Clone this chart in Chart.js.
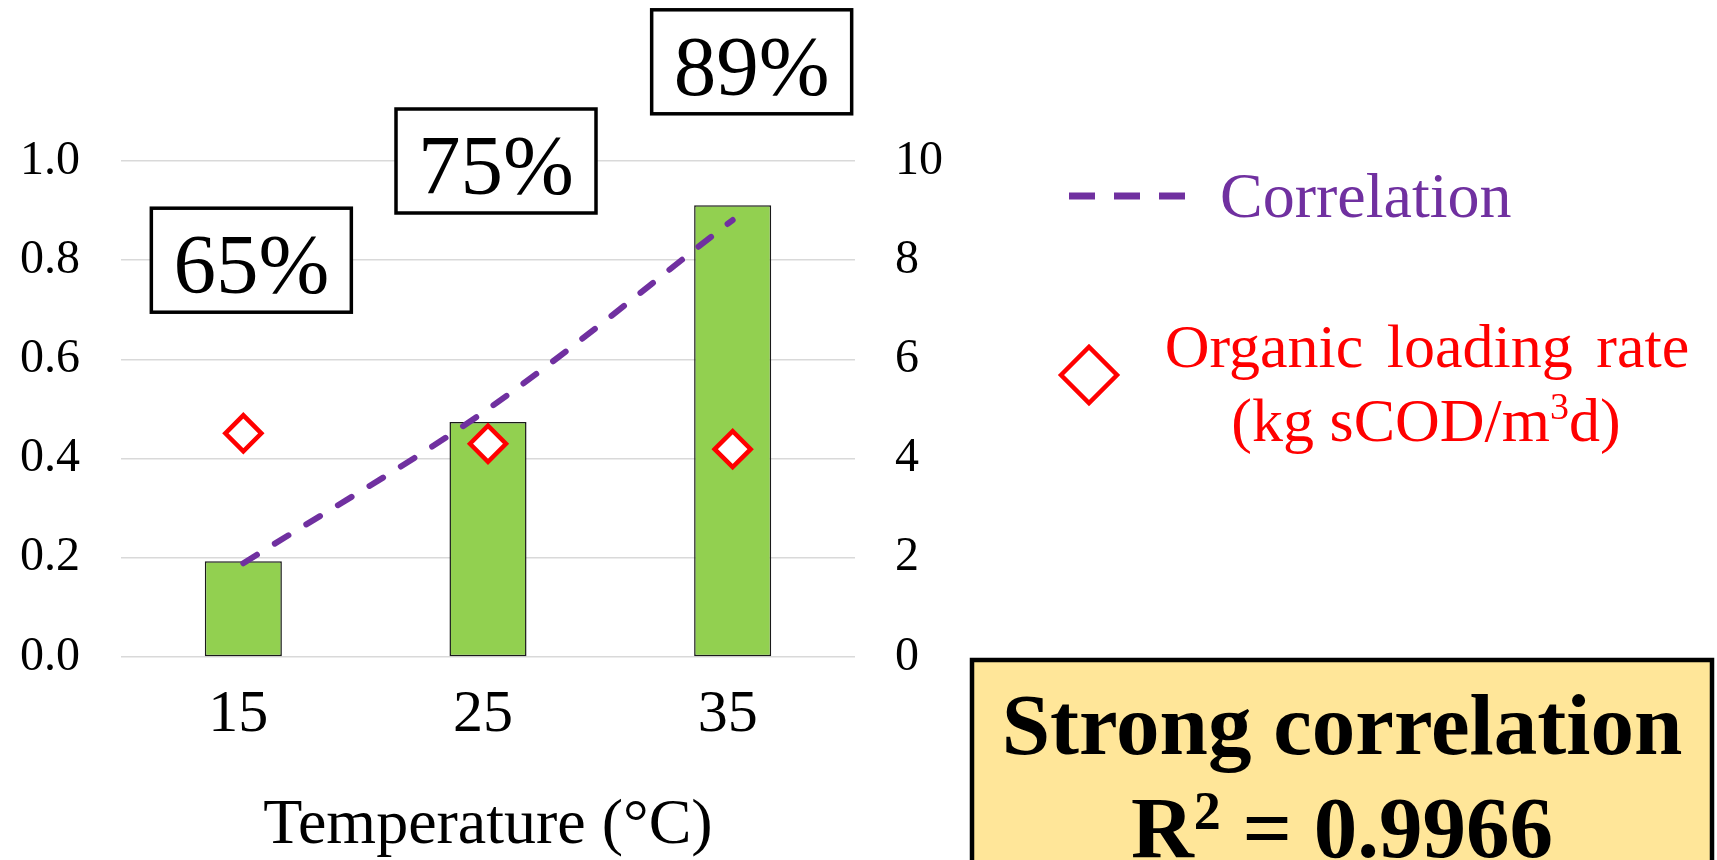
<!DOCTYPE html>
<html>
<head>
<meta charset="utf-8">
<script src="https://cdn.jsdelivr.net/npm/chart.js@4.4.1/dist/chart.umd.min.js"></script>
<style>
  html, body { margin: 0; padding: 0; background: #ffffff; overflow: hidden; }
  canvas { display: block; }
</style>
</head>
<body>
<canvas id="chart" width="1717" height="860"></canvas>
<script>
// ---- data ----
const temperatures = ['15', '25', '35'];
const barValues = [0.193, 0.474, 0.911];          // left axis
const correlationValues = [0.189, 0.500, 0.881];  // left axis, trend curve
const loadingRates = [4.51, 4.30, 4.19];          // right axis, kg sCOD/m3d
const removalLabels = ['65%', '75%', '89%'];
const leftTicks = [0, 0.2, 0.4, 0.6, 0.8, 1.0];
const rightTicks = [0, 2, 4, 6, 8, 10];
const rSquared = '0.9966';

// ---- styling / layout ----
const SERIF = "'Liberation Serif', 'Times New Roman', serif";
const PURPLE = '#7030A0';
const RED = '#FF0000';
const GREEN = '#92D050';

// callout boxes: horizontal nudge (px) from category centre, centre height in left-axis units
const calloutLayout = [
  { dx: 8, yValue: 0.8 },
  { dx: 8, yValue: 1.0 },
  { dx: 19, yValue: 1.2 }
];

const overlayPlugin = {
  id: 'overlay',
  afterDraw(chart) {
    const { ctx, scales: { x, y } } = chart;
    ctx.save();

    // percentage callouts
    const bw = 200, bh = 104;
    removalLabels.forEach((txt, i) => {
      const cx = x.getPixelForValue(i) + calloutLayout[i].dx;
      const cy = y.getPixelForValue(calloutLayout[i].yValue);
      ctx.fillStyle = '#ffffff';
      ctx.fillRect(cx - bw / 2, cy - bh / 2, bw, bh);
      ctx.lineWidth = 3.5;
      ctx.strokeStyle = '#000000';
      ctx.strokeRect(cx - bw / 2, cy - bh / 2, bw, bh);
      ctx.font = `85px ${SERIF}`;
      ctx.textAlign = 'center';
      ctx.textBaseline = 'alphabetic';
      ctx.fillStyle = '#000000';
      ctx.fillText(txt, cx, cy + 33);
    });

    // legend: correlation
    const lineDs = chart.data.datasets[1];
    ctx.beginPath();
    ctx.setLineDash([26, 19]);
    ctx.lineWidth = 7;
    ctx.strokeStyle = lineDs.borderColor;
    ctx.moveTo(1069, 196);
    ctx.lineTo(1185, 196);
    ctx.stroke();
    ctx.setLineDash([]);
    ctx.font = `64px ${SERIF}`;
    ctx.textAlign = 'left';
    ctx.fillStyle = PURPLE;
    ctx.fillText(lineDs.label, 1220, 217);

    // legend: organic loading rate
    const pcx = 1089, pcy = 375, pr = 28;
    ctx.beginPath();
    ctx.moveTo(pcx - pr, pcy);
    ctx.lineTo(pcx, pcy - pr);
    ctx.lineTo(pcx + pr, pcy);
    ctx.lineTo(pcx, pcy + pr);
    ctx.closePath();
    ctx.fillStyle = '#ffffff';
    ctx.fill();
    ctx.lineWidth = 4.5;
    ctx.strokeStyle = RED;
    ctx.stroke();

    ctx.fillStyle = RED;
    ctx.font = `62px ${SERIF}`;
    const words = ['Organic', 'loading', 'rate'];
    const gap = ctx.measureText(' ').width + 8;
    const total = words.reduce((s, w) => s + ctx.measureText(w).width, 0) + gap * (words.length - 1);
    let wx = 1427 - total / 2;
    ctx.textAlign = 'left';
    words.forEach(w => {
      ctx.fillText(w, wx, 367);
      wx += ctx.measureText(w).width + gap;
    });
    // second line with superscript 3
    const partA = '(kg sCOD/m', sup = '3', partB = 'd)';
    ctx.font = `62px ${SERIF}`;
    const wa = ctx.measureText(partA).width, wb = ctx.measureText(partB).width;
    ctx.font = `38px ${SERIF}`;
    const ws = ctx.measureText(sup).width;
    let lx = 1426 - (wa + ws + wb) / 2;
    ctx.font = `62px ${SERIF}`;
    ctx.fillText(partA, lx, 441);
    ctx.font = `38px ${SERIF}`;
    ctx.fillText(sup, lx + wa, 419);
    ctx.font = `62px ${SERIF}`;
    ctx.fillText(partB, lx + wa + ws, 441);

    // summary box
    ctx.fillStyle = '#FFE699';
    ctx.fillRect(972, 660, 740, 230);
    ctx.lineWidth = 4.5;
    ctx.strokeStyle = '#000000';
    ctx.strokeRect(972, 660, 740, 230);
    ctx.fillStyle = '#000000';
    ctx.font = `bold 87px ${SERIF}`;
    ctx.textAlign = 'center';
    ctx.fillText('Strong correlation', 1342, 754);
    const r = 'R', eq = ' = ' + rSquared;
    ctx.font = `bold 87px ${SERIF}`;
    const wr = ctx.measureText(r).width, we = ctx.measureText(eq).width;
    ctx.font = `bold 54px ${SERIF}`;
    const w2 = ctx.measureText('2').width;
    let rx = 1342 - (wr + w2 + we) / 2;
    ctx.textAlign = 'left';
    ctx.font = `bold 87px ${SERIF}`;
    ctx.fillText(r, rx, 857);
    ctx.font = `bold 54px ${SERIF}`;
    ctx.fillText('2', rx + wr, 829);
    ctx.font = `bold 87px ${SERIF}`;
    ctx.fillText(eq, rx + wr + w2, 857);

    ctx.restore();
  }
};

new Chart(document.getElementById('chart'), {
  type: 'bar',
  data: {
    labels: temperatures,
    datasets: [
      {
        type: 'line',
        label: 'Organic loading rate',
        data: loadingRates,
        yAxisID: 'y1',
        showLine: false,
        pointStyle: 'rectRot',
        pointRadius: 18,
        pointBorderWidth: 4.5,
        pointBorderColor: RED,
        pointBackgroundColor: '#ffffff',
        order: 0
      },
      {
        type: 'line',
        label: 'Correlation',
        data: correlationValues,
        yAxisID: 'y',
        borderColor: PURPLE,
        borderWidth: 6,
        borderDash: [16, 21],
        borderCapStyle: 'round',
        cubicInterpolationMode: 'monotone',
        pointRadius: 0,
        fill: false,
        order: 1
      },
      {
        type: 'bar',
        label: 'Temperature',
        data: barValues,
        yAxisID: 'y',
        backgroundColor: GREEN,
        borderColor: '#1a1a1a',
        borderWidth: 1.5,
        borderSkipped: false,
        categoryPercentage: 1,
        barPercentage: 0.315,
        order: 2
      }
    ]
  },
  options: {
    responsive: false,
    devicePixelRatio: 1,
    animation: false,
    layout: { padding: { top: 161, right: 762, bottom: 0, left: 0 } },
    plugins: { legend: { display: false }, tooltip: { enabled: false } },
    scales: {
      x: {
        grid: { display: false, drawTicks: false },
        border: { display: false },
        ticks: { color: '#000', font: { family: SERIF, size: 60 }, padding: 22, labelOffset: -5 },
        title: {
          display: true,
          text: 'Temperature (°C)',
          color: '#000',
          font: { family: SERIF, size: 64, lineHeight: 1 },
          padding: { top: 0, bottom: 2 }
        },
        afterFit(scale) { scale.height = 203; }
      },
      y: {
        position: 'left',
        min: leftTicks[0],
        max: leftTicks[leftTicks.length - 1],
        ticks: {
          stepSize: leftTicks[1] - leftTicks[0],
          color: '#000',
          font: { family: SERIF, size: 48 },
          padding: 41,
          callback: v => Number(v).toFixed(1)
        },
        grid: { color: '#d9d9d9', lineWidth: 1.5, drawTicks: false },
        border: { display: false },
        afterFit(scale) { scale.width = 121; }
      },
      y1: {
        position: 'right',
        min: rightTicks[0],
        max: rightTicks[rightTicks.length - 1],
        ticks: {
          stepSize: rightTicks[1] - rightTicks[0],
          color: '#000',
          font: { family: SERIF, size: 48 },
          padding: 40
        },
        grid: { display: false, drawTicks: false },
        border: { display: false },
        afterFit(scale) { scale.width = 100; }
      }
    }
  },
  plugins: [overlayPlugin]
});
</script>
</body>
</html>
